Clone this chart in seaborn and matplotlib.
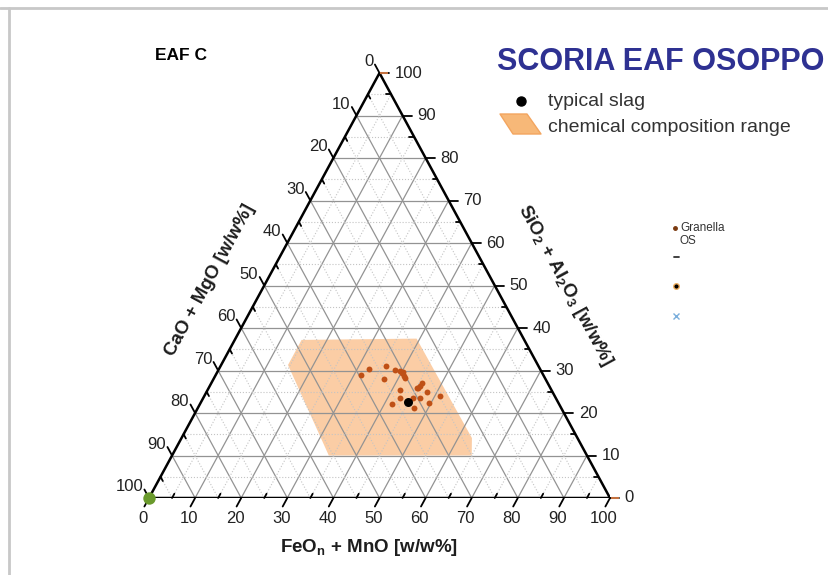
import numpy as np
import pandas as pd
import seaborn as sns
import matplotlib.pyplot as plt
from matplotlib.patches import Polygon

# compositions (w/w%)
granella_feo = [31.6, 32.5, 37.0, 35.8, 38.3, 39.5, 40.2, 40.9, 40.2, 41.4, 45.2, 45.6,
                45.7, 45.5, 47.8, 51.2, 41.9, 42.7, 45.6, 47.0, 49.6, 41.6, 46.9]
granella_sio2 = [28.9, 30.4, 28.1, 31.1, 30.2, 29.9, 29.3, 28.8, 29.6, 28.3, 26.0, 26.4,
                 27.0, 25.8, 24.9, 23.9, 25.3, 23.5, 23.5, 23.6, 22.4, 22.1, 21.1]
typical_feo = [45.0]
typical_sio2 = [22.5]
range_feo = [14.5, 39.3, 63.0, 65.0, 34.0, 14.5]
range_sio2 = [37.2, 37.5, 14.1, 10.0, 10.0, 31.3]
corner_feo = [0.0]
corner_sio2 = [0.0]
major = list(range(0, 101, 10))
minor = list(range(5, 100, 10))


def tern(feo, sio2):
    feo = np.asarray(feo, float)
    sio2 = np.asarray(sio2, float)
    return feo + sio2 / 2, sio2


sns.set_theme(style='white')
plt.rcParams['font.family'] = ['Liberation Sans', 'DejaVu Sans']
plt.rcParams['mathtext.fontset'] = 'custom'
plt.rcParams['mathtext.rm'] = 'Liberation Sans:bold'
plt.rcParams['mathtext.it'] = 'Liberation Sans:bold'
plt.rcParams['mathtext.bf'] = 'Liberation Sans:bold'

W, H = 829, 575
fig = plt.figure(figsize=(W / 100, H / 100), dpi=100)
fig.patch.set_facecolor('white')

# overlay in pixel units for the page decorations
ov = fig.add_axes([0, 0, 1, 1], zorder=0)
ov.set_xlim(0, W)
ov.set_ylim(H, 0)
ov.axis('off')

ax = fig.add_axes([149 / W, (H - 498) / H, 461 / W, 425 / H], zorder=1)
ax.set_xlim(0, 100)
ax.set_ylim(0, 100)
ax.axis('off')
ax.patch.set_alpha(0)

# composition range
rx, ry = tern(range_feo, range_sio2)
ax.add_patch(Polygon(np.column_stack([rx, ry]), closed=True, facecolor='#fbc595',
                     edgecolor='none', alpha=0.85, zorder=1))

# grid
for k in major[1:-1] + minor:
    ls = '-' if k % 10 == 0 else ':'
    col = '#939393' if k % 10 == 0 else '#c4c4c4'
    lw = 0.9 if k % 10 == 0 else 0.8
    # constant SiO2
    x, y = tern([0, 100 - k], [k, k])
    ax.plot(x, y, ls=ls, color=col, lw=lw, zorder=2)
    # constant FeO
    x, y = tern([k, k], [0, 100 - k])
    ax.plot(x, y, ls=ls, color=col, lw=lw, zorder=2)
    # constant CaO
    x, y = tern([100 - k, 0], [0, 100 - k])
    ax.plot(x, y, ls=ls, color=col, lw=lw, zorder=2)

# frame of triangle
x, y = tern([0, 100, 0, 0], [0, 0, 100, 0])
ax.plot(x, y, color='black', lw=1.8, zorder=4, solid_joinstyle='miter')

L, l = 2.0, 1.0
tick_kw = dict(color='black', lw=1.3, zorder=4, clip_on=False)
lab_kw = dict(fontsize=12, color='#222222', textcoords='offset points', annotation_clip=False)
for k in major:
    # bottom axis (FeO + MnO)
    x, y = tern([k, k], [0, -L])
    ax.plot(x, y, **tick_kw)
    ax.annotate(str(k), (x[1], y[1]), xytext=(-1, -3), ha='center', va='top', **lab_kw)
    # right axis (SiO2 + Al2O3)
    x, y = tern([100 - k, 100 - k + L], [k, k])
    ax.plot(x, y, **tick_kw)
    ax.annotate(str(k), (x[1], y[1]), xytext=(4, 0), ha='left', va='center', **lab_kw)
    # left axis (CaO + MgO)
    x, y = tern([0, -L], [100 - k, 100 - k + L])
    ax.plot(x, y, **tick_kw)
    ax.annotate(str(k), (x[1], y[1]), xytext=(-1, 2), ha='right', va='center', **lab_kw)
for k in minor:
    x, y = tern([k, k], [0, l])
    ax.plot(x, y, **tick_kw)
    x, y = tern([100 - k, 100 - k - l], [k, k])
    ax.plot(x, y, **tick_kw)
    x, y = tern([0, l], [100 - k, 100 - k - l])
    ax.plot(x, y, **tick_kw)

# data points
gx, gy = tern(granella_feo, granella_sio2)
df = pd.DataFrame({'x': gx, 'y': gy})
sns.scatterplot(data=df, x='x', y='y', ax=ax, color='#bf5016', s=18, linewidth=0,
                zorder=5, legend=False)
tx, ty = tern(typical_feo, typical_sio2)
sns.scatterplot(x=tx, y=ty, ax=ax, color='black', s=42, linewidth=0, zorder=6, legend=False)
cx, cy = tern(corner_feo, corner_sio2)
ax.scatter(cx, cy, s=80, color='#6a9a2c', zorder=6, clip_on=False, linewidths=0)
ox, oy = tern([0, 100], [100, 0])
ax.scatter(ox + 1.0, oy, s=30, marker='_', color='#f08a4b', alpha=0.8, zorder=6,
           clip_on=False, linewidths=1.5)
ax.set_xlabel('')
ax.set_ylabel('')

# axis titles
fig.text(369 / W, 1 - 548 / H, r'FeO$_\mathrm{n}$ + MnO [w/w%]', ha='center', va='center',
         fontsize=13.5, fontweight='bold', color='#1e1e1e')
fig.text(210 / W, 1 - 280 / H, 'CaO + MgO [w/w%]', ha='center', va='center',
         rotation=61.6, rotation_mode='anchor', fontsize=13.5, fontweight='bold', color='#1e1e1e')
fig.text(565 / W, 1 - 285 / H, r'SiO$_\mathrm{2}$ + Al$_\mathrm{2}$O$_\mathrm{3}$ [w/w%]',
         ha='center', va='center', rotation=-61.6, rotation_mode='anchor',
         fontsize=13.5, fontweight='bold', color='#1e1e1e')

# headings
fig.text(661 / W, 1 - 62 / H, 'SCORIA EAF OSOPPO', ha='center', va='center',
         fontsize=22, fontweight='bold', color='#2e3192')
fig.text(155 / W, 1 - 55 / H, 'EAF C', ha='left', va='center', fontsize=12.5,
         fontweight='bold', color='black')

# legend
ov.plot([521], [101], 'o', color='black', ms=6.5)
ov.text(548, 101, 'typical slag', ha='left', va='center', fontsize=14, color='#333333')
ov.add_patch(Polygon([[500, 114], [527, 114], [541, 134], [513, 134]], closed=True,
                     facecolor='#f7b878', edgecolor='#f3a55f', lw=1, joinstyle='round'))
ov.text(548, 127, 'chemical composition range', ha='left', va='center', fontsize=14,
        color='#333333')

# small leftover legend
ov.plot([675], [228], 'o', color='#7a3a10', ms=2.5)
ov.text(680, 228, 'Granella', ha='left', va='center', fontsize=8.5, color='#333333')
ov.text(680, 241, 'OS', ha='left', va='center', fontsize=8.5, color='#333333')
ov.plot([674, 679], [257, 257], color='#333333', lw=1.3)
ov.plot([676], [286], 'o', color='black', mec='#f0b060', mew=1, ms=4)
ov.plot([676], [316], 'x', color='#7aaedc', ms=4, mew=1)

# page border
ov.plot([0, W], [8, 8], color='#c8c8c8', lw=2)
ov.plot([9, 9], [8, H], color='#c8c8c8', lw=2)

fig.savefig('out.png', dpi=100, facecolor='white')
